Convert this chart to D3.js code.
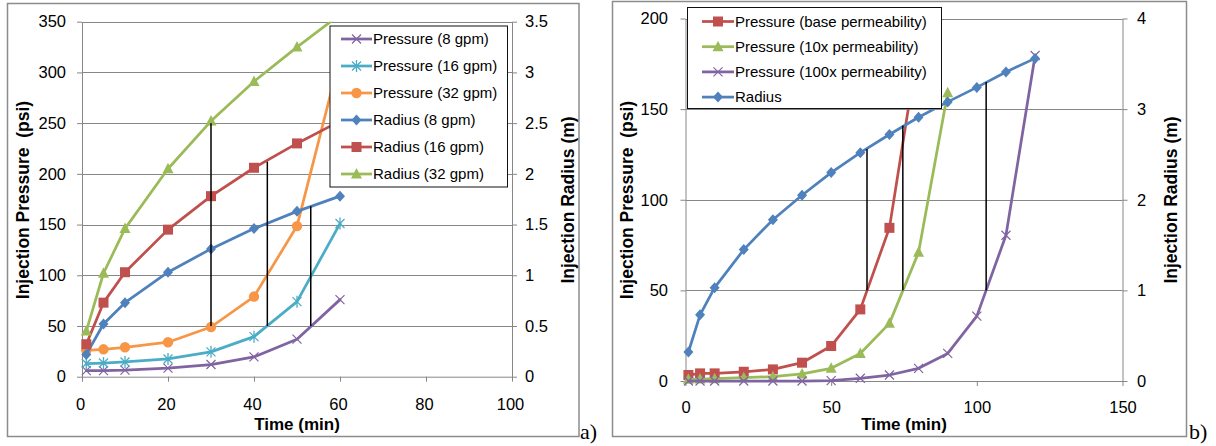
<!DOCTYPE html>
<html><head><meta charset="utf-8">
<script src="https://cdn.jsdelivr.net/npm/d3@7"></script>
<style>
html,body{margin:0;padding:0;background:#fff;}
svg{display:block;font-family:"Liberation Sans",Arial,sans-serif;}
</style></head><body>
<svg id="c" width="1216" height="446"></svg>
<script>
// ---------------- DATA: chart a) ----------------
const timeA = [1, 5, 10, 20, 30, 40, 50, 60];
const press8 = [6, 6, 6.5, 8.5, 12, 19.5, 37, 76];
const press16 = [13, 13.5, 14.5, 17.5, 24.5, 39.5, 74, 151];
const press32 = [26, 27, 29, 34, 49, 79, 148.5, 315];
const rad8 = [0.22, 0.52, 0.73, 1.03, 1.26, 1.46, 1.63, 1.78];
const rad16 = [0.32, 0.73, 1.03, 1.45, 1.78, 2.06, 2.30, 2.52];
const rad32 = [0.45, 1.02, 1.46, 2.05, 2.52, 2.91, 3.25, 3.57];
const xTicksA = [0, 20, 40, 60, 80, 100];
const yTicksA = [0, 50, 100, 150, 200, 250, 300, 350];
const y2TicksA = [0, 0.5, 1, 1.5, 2, 2.5, 3, 3.5];
const y2LabelsA = ["0", "0.5", "1", "1.5", "2", "2.5", "3", "3.5"];
const vTimeA = [30, 43.1, 53.2];
const vRadA = [2.5, 2.12, 1.68];
const vPressA = [50, 50, 50];
const legendA = ["Pressure (8 gpm)", "Pressure (16 gpm)", "Pressure (32 gpm)", "Radius (8 gpm)", "Radius (16 gpm)", "Radius (32 gpm)"];

// ---------------- DATA: chart b) ----------------
const timeB = [1, 5, 10, 20, 30, 40, 50, 60, 70, 80, 90, 100, 110, 120];
const pressBase = [3.3, 4.2, 4.2, 5.1, 6.4, 10.1, 19.3, 39.5, 84.5, 186];
const press10x = [1, 1.1, 1.3, 1.8, 2.4, 3.9, 7, 15.2, 31.8, 71, 159];
const press100x = [0, 0, 0, 0, 0, 0, 0.2, 1.5, 3.3, 7, 15.2, 35.8, 80.4, 179.6];
const radiusB = [0.32, 0.73, 1.03, 1.45, 1.78, 2.05, 2.30, 2.52, 2.72, 2.91, 3.08, 3.24, 3.41, 3.56];
const xTicksB = [0, 50, 100, 150];
const yTicksB = [0, 50, 100, 150, 200];
const y2TicksB = [0, 1, 2, 3, 4];
const y2LabelsB = ["0", "1", "2", "3", "4"];
const vTimeB = [62.3, 74.6, 103.2];
const vRadB = [2.56, 2.82, 3.30];
const vPressB = [50, 50, 50];
const legendB = ["Pressure (base permeability)", "Pressure (10x permeability)", "Pressure (100x permeability)", "Radius"];

// ---------------- STYLE ----------------
const C = {blue:"#4F81BD", red:"#C0504D", green:"#9BBB59", purple:"#8064A2", cyan:"#4BACC6", orange:"#F79646"};
const GRAY = "#878787";

const svg = d3.select("#c");
svg.append("rect").attr("width",1216).attr("height",446).attr("fill","#fff");

function marker(g, type, color) {
  if (type === "x") {
    g.append("path").attr("d","M-4.5,-4.5L4.5,4.5M-4.5,4.5L4.5,-4.5").attr("stroke",color).attr("stroke-width",1.2).attr("fill","none");
  } else if (type === "star") {
    g.append("path").attr("d","M-4.5,-4.5L4.5,4.5M-4.5,4.5L4.5,-4.5M0,-6L0,6").attr("stroke",color).attr("stroke-width",1.3).attr("fill","none");
  } else if (type === "circle") {
    g.append("circle").attr("r",5.2).attr("fill",color);
  } else if (type === "diamond") {
    g.append("path").attr("d","M0,-5.5L5,0L0,5.5L-5,0Z").attr("fill",color);
  } else if (type === "square") {
    g.append("rect").attr("x",-5).attr("y",-5).attr("width",10).attr("height",10).attr("fill",color);
  } else if (type === "triangle") {
    g.append("path").attr("d","M0,-6L5.5,4.5L-5.5,4.5Z").attr("fill",color);
  }
}

function drawChart(cfg, id) {
  const g = svg.append("g");
  g.append("rect").attr("x",cfg.frame[0]).attr("y",cfg.frame[1]).attr("width",cfg.frame[2]-cfg.frame[0]).attr("height",cfg.frame[3]-cfg.frame[1])
    .attr("fill","none").attr("stroke","#8c8c8c").attr("stroke-width",1.5);
  const P = cfg.plot;
  const x = d3.scaleLinear().domain(cfg.xDomain).range([P[0], P[2]]);
  const y = d3.scaleLinear().domain(cfg.yDomain).range([P[3], P[1]]);
  const y2 = d3.scaleLinear().domain(cfg.y2Domain).range([P[3], P[1]]);

  g.append("g").selectAll("line").data(cfg.yTicks.filter(d=>d>0)).join("line")
    .attr("x1",P[0]).attr("x2",P[2]).attr("y1",d=>Math.round(y(d))+0.5).attr("y2",d=>Math.round(y(d))+0.5)
    .attr("stroke",GRAY).attr("stroke-width",1);

  function styleAxis(sel) {
    sel.select(".domain").attr("stroke",GRAY).attr("stroke-width",1);
    sel.selectAll(".tick line").attr("stroke",GRAY).attr("stroke-width",1);
    sel.selectAll(".tick text").attr("fill","#000").style("font-size","16.5px").style("font-family","'Liberation Sans',Arial,sans-serif");
  }
  const ax = g.append("g").attr("transform",`translate(0,${P[3]})`)
    .call(d3.axisBottom(x).tickValues(cfg.xTicks).tickSize(5).tickSizeOuter(0).tickPadding(cfg.xPad).tickFormat(d3.format("d")));
  styleAxis(ax); ax.selectAll(".tick text").attr("dx",cfg.xDx);
  const ay = g.append("g").attr("transform",`translate(${P[0]},0)`)
    .call(d3.axisLeft(y).tickValues(cfg.yTicks).tickSize(5).tickSizeOuter(0).tickPadding(cfg.yPad).tickFormat(d3.format("d")));
  styleAxis(ay);
  const ay2 = g.append("g").attr("transform",`translate(${P[2]},0)`)
    .call(d3.axisRight(y2).tickValues(cfg.y2Ticks).tickSize(5).tickSizeOuter(0).tickPadding(cfg.y2Pad).tickFormat((d,i)=>cfg.y2Labels[i]));
  styleAxis(ay2);

  const clipId = "clip"+id;
  svg.append("defs").append("clipPath").attr("id",clipId).append("rect")
    .attr("x",P[0]-12).attr("y",P[1]).attr("width",P[2]-P[0]+24).attr("height",P[3]-P[1]+14);
  const plotG = g.append("g").attr("clip-path",`url(#${clipId})`);

  cfg.series.forEach(s => {
    const sc = s.axis === "L" ? y : y2;
    const pts = s.values.map((v,i)=>[x(s.times[i]), sc(v)]);
    plotG.append("path").attr("d",d3.line()(pts)).attr("fill","none").attr("stroke",s.color)
      .attr("stroke-width",2.75).attr("stroke-linejoin","round").attr("stroke-linecap","round");
    pts.forEach(p => { marker(plotG.append("g").attr("transform",`translate(${p[0]},${p[1]})`), s.marker, s.color); });
  });

  cfg.vTimes.forEach((t,i) => {
    g.append("line").attr("x1",x(t)).attr("x2",x(t)).attr("y1",y2(cfg.vRads[i])).attr("y2",y(cfg.vPress[i]))
      .attr("stroke","#000").attr("stroke-width",1.5);
  });

  const L = cfg.legend;
  g.append("rect").attr("x",L.x0).attr("y",L.y0).attr("width",L.x1-L.x0).attr("height",L.y1-L.y0)
    .attr("fill","#fff").attr("stroke","#111").attr("stroke-width",1);
  cfg.series.forEach((s,i) => {
    const ly = L.firstY + i*L.step;
    g.append("line").attr("x1",L.lineX0).attr("x2",L.lineX1).attr("y1",ly).attr("y2",ly).attr("stroke",s.color).attr("stroke-width",2.75);
    marker(g.append("g").attr("transform",`translate(${(L.lineX0+L.lineX1)/2},${ly})`), s.marker, s.color);
    g.append("text").attr("x",L.textX).attr("y",ly).attr("dy","0.35em").style("font-size","15px").attr("fill","#000").text(s.name);
  });

  g.append("text").attr("transform",`translate(${cfg.yTitleX},${cfg.titleY}) rotate(-90)`).attr("text-anchor","middle").attr("dy","0.35em")
    .style("font-size","17.5px").style("font-weight","bold").style("white-space","pre").text("Injection Pressure  (psi)");
  g.append("text").attr("transform",`translate(${cfg.y2TitleX},${cfg.titleY}) rotate(-90)`).attr("text-anchor","middle").attr("dy","0.35em")
    .style("font-size","17.5px").style("font-weight","bold").text("Injection Radius (m)");
  g.append("text").attr("x",(P[0]+P[2])/2).attr("y",430).attr("text-anchor","middle")
    .style("font-size","17px").style("font-weight","bold").text("Time (min)");
  g.append("text").attr("x",cfg.tag[0]).attr("y",cfg.tag[1]).style("font-family","'Liberation Serif','Times New Roman',serif")
    .style("font-size","22px").text(cfg.tag[2]);
}

const timesFor = arr => timeB.slice(0, arr.length);

drawChart({
  frame:[7.5,3.5,579,436.5],
  plot:[82,21.7,512,376.7],
  xDomain:[0,100], yDomain:[0,350], y2Domain:[0,3.5],
  xTicks:xTicksA, yTicks:yTicksA, y2Ticks:y2TicksA, y2Labels:y2LabelsA,
  xPad:16.5, xDx:-2, yPad:11, y2Pad:8,
  series:[
    {name:legendA[0], times:timeA, values:press8, axis:"L", color:C.purple, marker:"x"},
    {name:legendA[1], times:timeA, values:press16, axis:"L", color:C.cyan, marker:"star"},
    {name:legendA[2], times:timeA, values:press32, axis:"L", color:C.orange, marker:"circle"},
    {name:legendA[3], times:timeA, values:rad8, axis:"R", color:C.blue, marker:"diamond"},
    {name:legendA[4], times:timeA, values:rad16, axis:"R", color:C.red, marker:"square"},
    {name:legendA[5], times:timeA, values:rad32, axis:"R", color:C.green, marker:"triangle"}
  ],
  vTimes:vTimeA, vRads:vRadA, vPress:vPressA,
  legend:{x0:330,y0:26,x1:507.5,y1:187,firstY:39,step:27,lineX0:341,lineX1:372,textX:373},
  yTitleX:23, y2TitleX:567.5, titleY:200,
  tag:[580,439,"a)"]
}, "A");

drawChart({
  frame:[612.5,1.5,1186.5,436.5],
  plot:[685.5,18.5,1122.5,381],
  xDomain:[0,150], yDomain:[0,200], y2Domain:[0,4],
  xTicks:xTicksB, yTicks:yTicksB, y2Ticks:y2TicksB, y2Labels:y2LabelsB,
  xPad:15, xDx:0, yPad:12.5, y2Pad:9.5,
  series:[
    {name:legendB[0], times:timesFor(pressBase), values:pressBase, axis:"L", color:C.red, marker:"square"},
    {name:legendB[1], times:timesFor(press10x), values:press10x, axis:"L", color:C.green, marker:"triangle"},
    {name:legendB[2], times:timesFor(press100x), values:press100x, axis:"L", color:C.purple, marker:"x"},
    {name:legendB[3], times:timeB, values:radiusB, axis:"R", color:C.blue, marker:"diamond"}
  ],
  vTimes:vTimeB, vRads:vRadB, vPress:vPressB,
  legend:{x0:687.5,y0:7.5,x1:941.5,y1:108.5,firstY:21.5,step:25.2,lineX0:702,lineX1:734,textX:735},
  yTitleX:627, y2TitleX:1171, titleY:200,
  tag:[1189,439,"b)"]
}, "B");
</script>
</body></html>
